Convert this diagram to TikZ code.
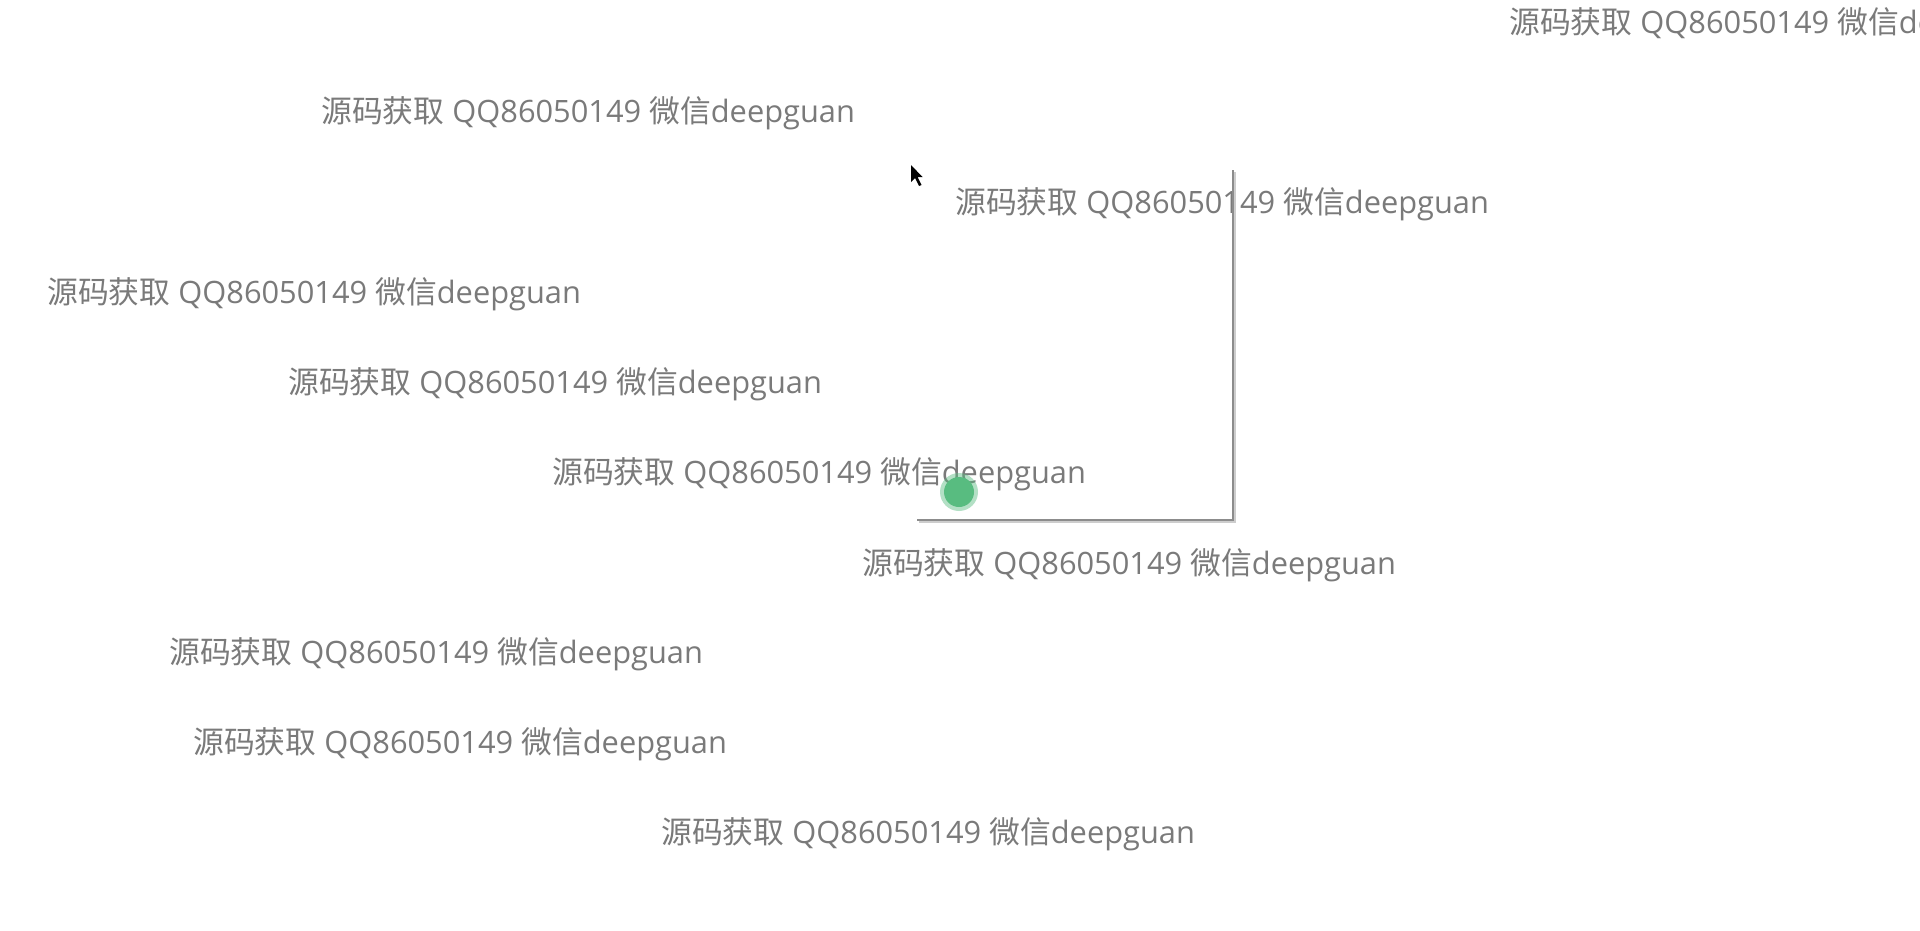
\documentclass[tikz,border=0pt]{standalone}
\usepackage{fontspec}
\setmainfont{Open Sans}
\newfontfamily\cjk{Noto Sans CJK SC}
\usetikzlibrary{positioning}

\definecolor{txtgray}{RGB}{122,122,122}
\definecolor{linegray}{RGB}{140,140,140}
\definecolor{shadegray}{RGB}{205,205,205}
\definecolor{dotgreen}{RGB}{88,188,128}

\newcommand{\srcnote}{{\cjk 源码获取} QQ86050149 {\cjk 微信}deepguan}

\begin{document}
\begin{tikzpicture}[x=1pt, y=-1pt,
    wm/.style={anchor=base west, inner sep=0pt, text=txtgray,
      font=\fontsize{30.8}{31}\selectfont},
    frame/.style={draw=linegray, line width=2pt},
    frameshade/.style={draw=shadegray, line width=2.5pt}]
   \useasboundingbox[fill=white] (0,0) rectangle (1920,930);
   \clip (0,0) rectangle (1920,930);

   \node[wm] (w1) at (1509,33) {\srcnote};
   \node[wm] (w2) at (321,122) {\srcnote};
   \node[wm] (w3) at (955,213) {\srcnote};
   \node[wm] (w4) at (47,303) {\srcnote};
   \node[wm] (w5) at (288,393) {\srcnote};
   \node[wm] (w6) at (552,483) {\srcnote};
   \node[wm] (w7) at (862,574) {\srcnote};
   \node[wm] (w8) at (169,663) {\srcnote};
   \node[wm] (w9) at (193,753) {\srcnote};
   \node[wm] (w10) at (661,843) {\srcnote};

   % frame corner
   \coordinate (ftop) at (1233,170);
   \coordinate (fcorner) at (1233,520);
   \coordinate (fleft) at (917,520);
   \draw[frameshade] ([shift={(2,2)}]ftop) -- ([shift={(2,2)}]fcorner) -- ([shift={(2,2)}]fleft);
   \draw[frame] (ftop) -- (fcorner) -- (fleft);

   % green dot
   \coordinate (dot) at (959,492);
   \fill[dotgreen, opacity=0.45] (dot) circle (19);
   \fill[dotgreen] (dot) circle (15);

   % mouse pointer
   \fill[black, shift={(911,165)}]
     (0,0) -- (0,17) -- (4,13) -- (8,21) -- (10.5,20) -- (6.5,12) -- (11.5,12) -- cycle;
\end{tikzpicture}
\end{document}
